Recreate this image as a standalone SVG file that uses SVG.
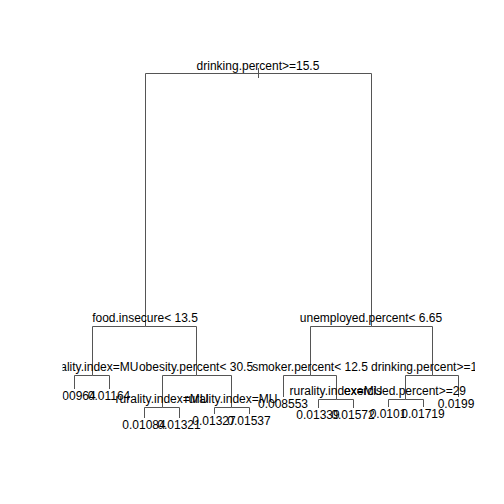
<svg xmlns="http://www.w3.org/2000/svg" width="504" height="504" viewBox="0 0 504 504">
<defs>
<clipPath id="plot"><rect x="62.5" y="59" width="412.5" height="372"/></clipPath>
<style>
text{font-family:"Liberation Sans",Arial,sans-serif;font-size:12px;fill:#000;text-anchor:middle}
.c path{fill:none;stroke:#555;stroke-width:1}
</style>
</defs>
<rect width="504" height="504" fill="#fff"/>
<g clip-path="url(#plot)">
<g id="connectors" class="c">
<path d="M258.5,68V78"/>
<path d="M258.5,73.5H145.5V326.5"/>
<path d="M258.5,73.5H371.5V326.5"/>
<path d="M145.5,326.5H92.5V375.5"/>
<path d="M145.5,326.5H196.5V375.5"/>
<path d="M92.5,375.5H74.5V389"/>
<path d="M92.5,375.5H109.5V389"/>
<path d="M196.5,375.5H162.5V407.5"/>
<path d="M196.5,375.5H231.5V407.5"/>
<path d="M162.5,407.5H144.5V418"/>
<path d="M162.5,407.5H179.5V418"/>
<path d="M231.5,407.5H214.5V414"/>
<path d="M231.5,407.5H249.5V414"/>
<path d="M371.5,326.5H310.5V375.5"/>
<path d="M371.5,326.5H432.5V375.5"/>
<path d="M310.5,375.5H283.5V397"/>
<path d="M310.5,375.5H336.5V399.5"/>
<path d="M336.5,399.5H318.5V408"/>
<path d="M336.5,399.5H353.5V408"/>
<path d="M432.5,375.5H405.5V399.5"/>
<path d="M432.5,375.5H458.5V397"/>
<path d="M405.5,399.5H388.5V407"/>
<path d="M405.5,399.5H423.5V407"/>
</g>
<g id="n1"><text x="258" y="70">drinking.percent&gt;=15.5</text></g>
<g id="n2"><text x="145" y="322">food.insecure&lt; 13.5</text></g>
<g id="n3"><text x="371" y="322">unemployed.percent&lt; 6.65</text></g>
<g id="n4"><text x="92" y="371">rurality.index=MU</text></g>
<g id="n5"><text x="196" y="371">obesity.percent&lt; 30.5</text></g>
<g id="n8"><text x="74" y="400">0.00964</text></g>
<g id="n9"><text x="109" y="400">0.01164</text></g>
<g id="n10"><text x="162" y="403">rurality.index=MU</text></g>
<g id="n11"><text x="231" y="403">rurality.index=MU</text></g>
<g id="n20"><text x="144" y="429">0.01084</text></g>
<g id="n21"><text x="179" y="429">0.01321</text></g>
<g id="n22"><text x="214" y="425">0.01327</text></g>
<g id="n23"><text x="249" y="425">0.01537</text></g>
<g id="n6"><text x="310" y="371">smoker.percent&lt; 12.5</text></g>
<g id="n7"><text x="371" y="371" style="text-anchor:start">drinking.percent&gt;=1</text></g>
<g id="n12"><text x="283" y="408">0.008553</text></g>
<g id="n13"><text x="336" y="395">rurality.index=MU</text></g>
<g id="n26"><text x="318" y="419">0.01339</text></g>
<g id="n27"><text x="353" y="419">0.01572</text></g>
<g id="n14"><text x="405" y="395">exercised.percent&gt;=29</text></g>
<g id="n15"><text x="456" y="408">0.0199</text></g>
<g id="n28"><text x="388" y="418">0.0101</text></g>
<g id="n29"><text x="423" y="418">0.01719</text></g>
</g>
</svg>
